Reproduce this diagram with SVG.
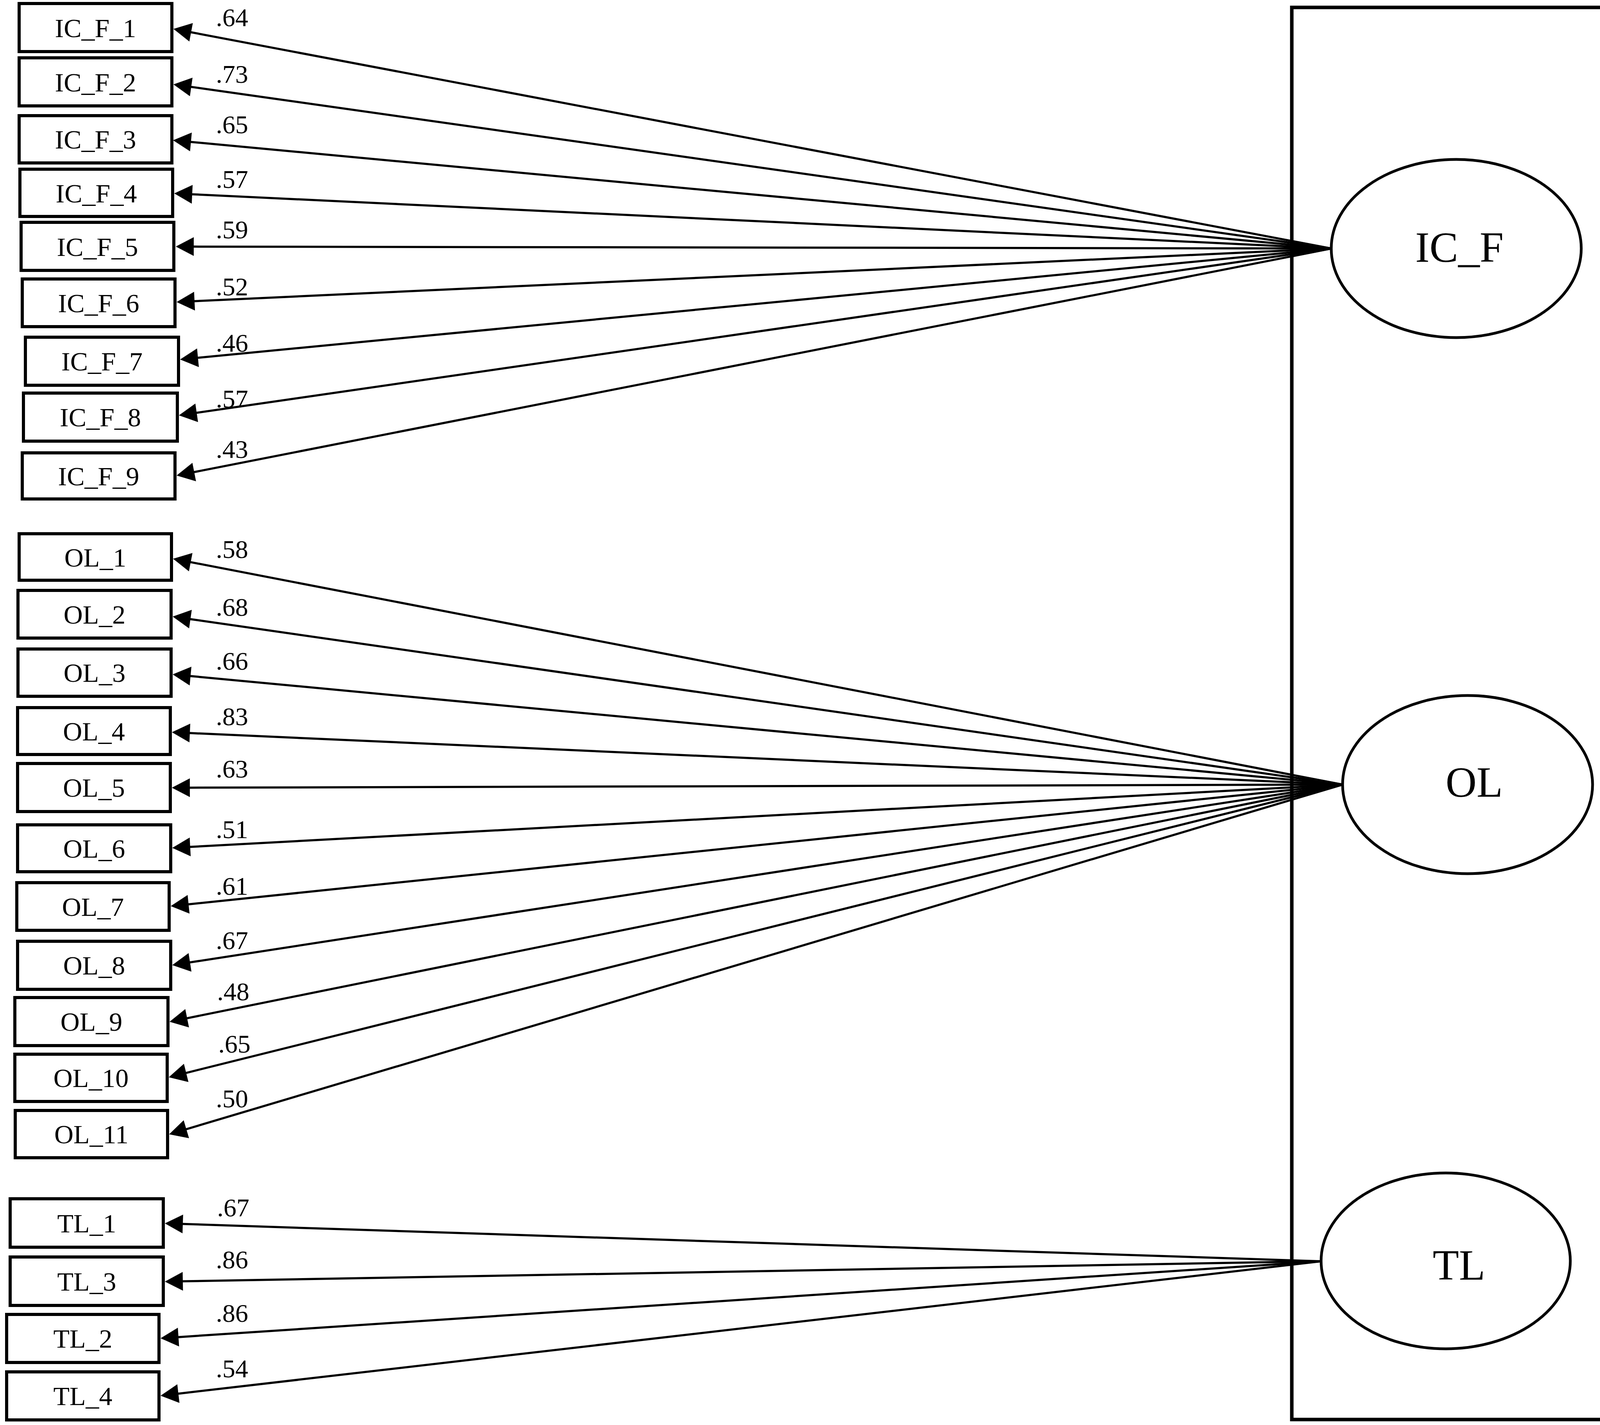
<svg xmlns="http://www.w3.org/2000/svg" width="4550" height="3647" viewBox="0 0 4550 3647">
<defs>
<style>
.box{fill:#fff;stroke:#000;stroke-width:8}
.lat{fill:#fff;stroke:#000;stroke-width:7}
.frame{fill:none;stroke:#000;stroke-width:9}
.t{font-family:"Liberation Serif","Times New Roman",serif;font-size:68px;fill:#000;text-anchor:middle}
.tl{font-family:"Liberation Serif","Times New Roman",serif;font-size:110px;fill:#000;text-anchor:middle}
.title{font-family:"Liberation Serif","Times New Roman",serif;font-size:152px;fill:#000;text-anchor:middle}
.lbl{font-family:"Liberation Serif","Times New Roman",serif;font-size:66px;fill:#000;text-anchor:middle}
.c{stroke:#000;stroke-width:5.5;fill:none;marker-end:url(#ah)}
</style>
<marker id="ah" markerUnits="userSpaceOnUse" markerWidth="50" markerHeight="50" viewBox="0 -25 47 50" refX="6" refY="0" orient="auto">
<path d="M0,-24 L46,0 L0,24 z" fill="#000"/>
</marker>
</defs>
<rect x="0" y="0" width="4550" height="3647" fill="#fff"/>

<g id="group-barriers">
<rect class="frame" x="3307" y="19" width="984" height="3614"/>
<text class="title" transform="translate(4500,1886) rotate(-90)" x="0" y="0">Barriers to formal learning</text>
</g>

<g id="connectors">
<line class="c" x1="3408" y1="636" x2="483.3" y2="81.5"/>
<line class="c" x1="3408" y1="636" x2="483.6" y2="221.6"/>
<line class="c" x1="3408" y1="636" x2="482.8" y2="362.7"/>
<line class="c" x1="3408" y1="636" x2="486.0" y2="496.9"/>
<line class="c" x1="3408" y1="636" x2="490.0" y2="631.1"/>
<line class="c" x1="3408" y1="636" x2="492.0" y2="771.1"/>
<line class="c" x1="3408" y1="636" x2="500.8" y2="916.2"/>
<line class="c" x1="3408" y1="636" x2="497.6" y2="1057.3"/>
<line class="c" x1="3408" y1="636" x2="491.3" y2="1209.3"/>

<line class="c" x1="3437" y1="2008" x2="482.3" y2="1437.6"/>
<line class="c" x1="3437" y1="2008" x2="481.6" y2="1583.7"/>
<line class="c" x1="3437" y1="2008" x2="481.8" y2="1729.7"/>
<line class="c" x1="3437" y1="2008" x2="480.0" y2="1875.8"/>
<line class="c" x1="3437" y1="2008" x2="480.0" y2="2015.9"/>
<line class="c" x1="3437" y1="2008" x2="480.9" y2="2167.8"/>
<line class="c" x1="3437" y1="2008" x2="476.8" y2="2314.9"/>
<line class="c" x1="3437" y1="2008" x2="480.5" y2="2463.9"/>
<line class="c" x1="3437" y1="2008" x2="473.2" y2="2607.1"/>
<line class="c" x1="3437" y1="2008" x2="470.8" y2="2747.3"/>
<line class="c" x1="3437" y1="2008" x2="471.3" y2="2891.6"/>

<line class="c" x1="3382" y1="3228" x2="462.0" y2="3132.3"/>
<line class="c" x1="3382" y1="3228" x2="462.0" y2="3279.3"/>
<line class="c" x1="3382" y1="3228" x2="450.9" y2="3422.4"/>
<line class="c" x1="3382" y1="3228" x2="450.7" y2="3567.4"/>

<text class="lbl" x="594" y="67">.64</text>
<text class="lbl" x="594" y="212">.73</text>
<text class="lbl" x="594" y="341">.65</text>
<text class="lbl" x="594" y="481">.57</text>
<text class="lbl" x="594" y="610">.59</text>
<text class="lbl" x="594" y="756">.52</text>
<text class="lbl" x="594" y="900">.46</text>
<text class="lbl" x="594" y="1043">.57</text>
<text class="lbl" x="594" y="1172">.43</text>

<text class="lbl" x="594" y="1428">.58</text>
<text class="lbl" x="594" y="1576">.68</text>
<text class="lbl" x="594" y="1714">.66</text>
<text class="lbl" x="594" y="1856">.83</text>
<text class="lbl" x="594" y="1990">.63</text>
<text class="lbl" x="594" y="2145">.51</text>
<text class="lbl" x="594" y="2290">.61</text>
<text class="lbl" x="594" y="2429">.67</text>
<text class="lbl" x="597" y="2560">.48</text>
<text class="lbl" x="600" y="2694">.65</text>
<text class="lbl" x="594" y="2834">.50</text>

<text class="lbl" x="597" y="3113">.67</text>
<text class="lbl" x="594" y="3246">.86</text>
<text class="lbl" x="594" y="3383">.86</text>
<text class="lbl" x="594" y="3525">.54</text>
</g>

<g id="IC_F"><ellipse class="lat" cx="3728" cy="636" rx="320" ry="228"/><text class="tl" x="3736" y="670">IC_F</text></g>
<g id="OL"><ellipse class="lat" cx="3757" cy="2008" rx="320" ry="228"/><text class="tl" x="3774" y="2039">OL</text></g>
<g id="TL"><ellipse class="lat" cx="3701" cy="3227" rx="319" ry="225"/><text class="tl" x="3735" y="3275">TL</text></g>

<g id="IC_F_1"><rect class="box" x="49" y="9" width="391" height="123"/><text class="t" x="244.5" y="95">IC_F_1</text></g>
<g id="IC_F_2"><rect class="box" x="49" y="148" width="391" height="123"/><text class="t" x="244.5" y="234">IC_F_2</text></g>
<g id="IC_F_3"><rect class="box" x="49" y="296" width="391" height="121"/><text class="t" x="244.5" y="380">IC_F_3</text></g>
<g id="IC_F_4"><rect class="box" x="51" y="433" width="391" height="121"/><text class="t" x="246.5" y="518">IC_F_4</text></g>
<g id="IC_F_5"><rect class="box" x="54" y="569" width="391" height="123"/><text class="t" x="249.5" y="655">IC_F_5</text></g>
<g id="IC_F_6"><rect class="box" x="57" y="714" width="391" height="122"/><text class="t" x="252.5" y="799">IC_F_6</text></g>
<g id="IC_F_7"><rect class="box" x="65" y="863" width="392" height="123"/><text class="t" x="261" y="948">IC_F_7</text></g>
<g id="IC_F_8"><rect class="box" x="60" y="1006" width="394" height="123"/><text class="t" x="257" y="1091">IC_F_8</text></g>
<g id="IC_F_9"><rect class="box" x="57" y="1159" width="391" height="118"/><text class="t" x="252.5" y="1242">IC_F_9</text></g>

<g id="OL_1"><rect class="box" x="49" y="1366" width="390" height="119"/><text class="t" x="244" y="1450">OL_1</text></g>
<g id="OL_2"><rect class="box" x="46" y="1511" width="392" height="122"/><text class="t" x="242" y="1596">OL_2</text></g>
<g id="OL_3"><rect class="box" x="46" y="1661" width="392" height="121"/><text class="t" x="242" y="1745">OL_3</text></g>
<g id="OL_4"><rect class="box" x="45" y="1811" width="391" height="120"/><text class="t" x="240.5" y="1895">OL_4</text></g>
<g id="OL_5"><rect class="box" x="45" y="1954" width="391" height="123"/><text class="t" x="240.5" y="2039">OL_5</text></g>
<g id="OL_6"><rect class="box" x="45" y="2111" width="392" height="120"/><text class="t" x="241" y="2195">OL_6</text></g>
<g id="OL_7"><rect class="box" x="43" y="2259" width="390" height="122"/><text class="t" x="238" y="2344">OL_7</text></g>
<g id="OL_8"><rect class="box" x="45" y="2409" width="392" height="123"/><text class="t" x="241" y="2494">OL_8</text></g>
<g id="OL_9"><rect class="box" x="38" y="2553" width="392" height="123"/><text class="t" x="234" y="2638">OL_9</text></g>
<g id="OL_10"><rect class="box" x="38" y="2698" width="390" height="121"/><text class="t" x="233" y="2782">OL_10</text></g>
<g id="OL_11"><rect class="box" x="39" y="2842" width="390" height="121"/><text class="t" x="234" y="2926">OL_11</text></g>

<g id="TL_1"><rect class="box" x="26" y="3068" width="392" height="124"/><text class="t" x="222" y="3154">TL_1</text></g>
<g id="TL_3"><rect class="box" x="26" y="3217" width="392" height="124"/><text class="t" x="222" y="3303">TL_3</text></g>
<g id="TL_2"><rect class="box" x="17" y="3364" width="390" height="123"/><text class="t" x="212" y="3449">TL_2</text></g>
<g id="TL_4"><rect class="box" x="17" y="3511" width="390" height="123"/><text class="t" x="212" y="3596">TL_4</text></g>
</svg>
